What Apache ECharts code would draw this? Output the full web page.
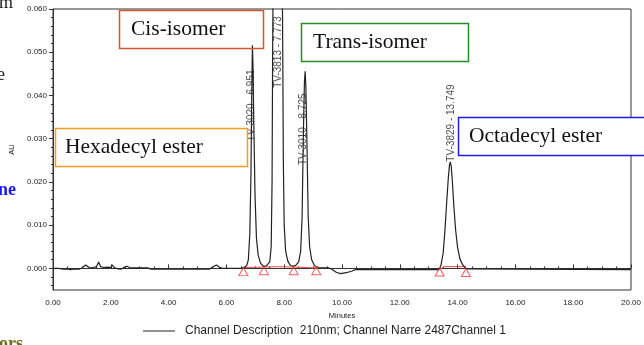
<!DOCTYPE html>
<html>
<head>
<meta charset="utf-8">
<script src="https://cdn.jsdelivr.net/npm/echarts@6.0.0/dist/echarts.min.js"></script>
<style>
  html, body { margin: 0; padding: 0; background: #fff; }
  #main { width: 644px; height: 345px; }
</style>
</head>
<body>
<div id="main"></div>
<script>
// chromatogram trace (minutes / AU)
var traceMinutes = [
  0.00, 0.20, 0.35, 0.50, 0.60, 0.75, 0.90, 1.00, 1.13, 1.25, 1.35, 1.50, 1.58, 1.65, 1.75, 1.90,
  2.00, 2.05, 2.12, 2.25, 2.35, 2.48, 2.55, 2.65, 2.80, 3.30, 3.38, 5.40, 5.55, 5.65, 5.75, 5.85,
  6.50, 6.60, 6.70, 6.76, 6.81, 6.85, 6.88, 6.90, 6.92, 6.95, 6.99, 7.04, 7.10, 7.18, 7.28, 7.38,
  7.50, 7.55, 7.58, 7.60, 7.63, 7.78, 7.92, 7.95, 7.97, 8.00, 8.05, 8.12, 8.20, 8.30,
  8.40, 8.50, 8.57, 8.62, 8.66, 8.70, 8.725, 8.75, 8.79, 8.83, 8.88, 8.95, 9.05, 9.20,
  9.55, 9.65, 9.80, 9.95, 10.15, 10.35, 10.45, 12.00, 13.35,
  13.42, 13.50, 13.56, 13.62, 13.68, 13.72, 13.749, 13.78, 13.82, 13.87, 13.93, 14.00, 14.08, 14.18, 14.30,
  20.00
];
var traceAU = [
  0.0000, 0.0000, -0.0002, -0.0001, -0.0003, -0.0001, -0.0002, 0.0001, 0.0008, 0.0002, 0.0001, 0.0004, 0.0015, 0.0004, 0.0002, 0.0003,
  0.0002, 0.0008, 0.0002, -0.0001, -0.0002, 0.0003, 0.0005, 0.0002, 0.0001, 0.0001, -0.0002, -0.0002, 0.0004, 0.0008, 0.0003, 0.0000,
  0.0000, 0.0002, 0.0006, 0.0020, 0.0080, 0.0220, 0.0420, 0.0516, 0.0470, 0.0330, 0.0170, 0.0070, 0.0030, 0.0012, 0.0005, 0.0006,
  0.0015, 0.0050, 0.0200, 0.0500, 0.0800, 0.1000, 0.0800, 0.0500, 0.0250, 0.0100, 0.0040, 0.0018, 0.0008, 0.0005,
  0.0007, 0.0015, 0.0040, 0.0120, 0.0300, 0.0430, 0.0456, 0.0420, 0.0280, 0.0120, 0.0050, 0.0020, 0.0006, 0.0002,
  0.0001, -0.0002, -0.0009, -0.0012, -0.0010, -0.0006, -0.0003, -0.0003, -0.0003,
  0.0006, 0.0035, 0.0085, 0.0150, 0.0210, 0.0240, 0.0246, 0.0236, 0.0200, 0.0145, 0.0090, 0.0048, 0.0022, 0.0008, -0.0001,
  -0.0003
];

// integration baselines (red) and their start/end marks
var baseMinutesA = [6.59, 7.30, 7.80, 8.33, 9.11];
var baseAUA = [0.0002, 0.0003, 0.0004, 0.0003, 0.0001];
var baseMinutesB = [13.38, 13.55, 14.29];
var baseAUB = [-0.0002, 0.0004, 0.0004];
var markMinutes = [6.59, 7.30, 8.33, 9.11, 13.38, 14.29];

// peak annotations
var peakMinutes = [6.90, 7.78, 8.725, 13.749];
var peakAU = [0.0516, 0.060, 0.0456, 0.0246];
var peakNames = ['TV-3020 - 6.951', 'TV-3813 - 7.773', 'TV-3010 - 8.725', 'TV-3829 - 13.749'];

var yTicks = [0, 0.01, 0.02, 0.03, 0.04, 0.05, 0.06];
var channelName = 'Channel Description  210nm; Channel Narre 2487Channel 1';

var chart = echarts.init(document.getElementById('main'), null, { renderer: 'canvas' });

function pairs(xs, ys) {
  var out = [];
  for (var i = 0; i < xs.length; i++) out.push([xs[i], ys[i]]);
  return out;
}

function baseAt(t) {
  // mark sits on the baseline of the trace
  var i = traceMinutes.findIndex(function (m) { return m >= t; });
  if (i <= 0) return traceAU[0];
  var a = traceMinutes[i - 1], b = traceMinutes[i];
  var k = (t - a) / (b - a);
  return Math.min(traceAU[i - 1] + k * (traceAU[i] - traceAU[i - 1]), 0.0004);
}

var minorY = [];
for (var v = -4; v <= 60; v += 2) {
  if (v % 10 !== 0) minorY.push(v / 1000);
}

// label offsets are given in the rotated frame: [-down, right]
var labelOffsets = [[-60, -1], [-43, 0], [-58, -2], [39, 1]];

var axisFont = {
  fontFamily: '"Liberation Sans Narrow", "Liberation Sans", Arial, sans-serif',
  fontSize: 8,
  color: '#222'
};
var boxFont = '21.5px "Liberation Serif", serif';

var option = {
  animation: false,
  backgroundColor: '#fff',
  grid: {
    left: 52, right: 6, top: 9, bottom: 55,
    show: true, borderColor: '#333', borderWidth: 1
  },
  legend: {
    data: [channelName],
    left: 143, top: 325, padding: 0,
    icon: 'rect', itemWidth: 32, itemHeight: 1, itemGap: 10,
    textStyle: { fontFamily: '"Liberation Sans", Arial, sans-serif', fontSize: 12, color: '#222', padding: [0, 0, 0, 5] }
  },
  xAxis: {
    type: 'value', min: 0, max: 20, interval: 2,
    name: 'Minutes', nameLocation: 'middle', nameGap: 20,
    nameTextStyle: Object.assign({}, axisFont, { fontSize: 7.5 }),
    axisLine: { lineStyle: { color: '#333', width: 1 } },
    axisTick: { inside: true, length: 4, lineStyle: { color: '#333' } },
    minorTick: { show: true, splitNumber: 4, length: 2, lineStyle: { color: '#333' } },
    axisLabel: Object.assign({ margin: 9, formatter: function (v) { return v.toFixed(2); } }, axisFont),
    splitLine: { show: false }
  },
  yAxis: [{
    type: 'value', min: -0.005, max: 0.06,
    name: 'AU', nameLocation: 'middle', nameGap: 37, nameRotate: 90,
    nameTextStyle: Object.assign({}, axisFont, { fontSize: 7.5 }),
    axisLine: { show: true, lineStyle: { color: '#333', width: 1 } },
    axisTick: { show: true, length: 4, customValues: yTicks, lineStyle: { color: '#333' } },
    axisLabel: Object.assign({ margin: 6, customValues: yTicks, formatter: function (v) { return v.toFixed(3); } }, axisFont),
    splitLine: { show: false }
  }, {
    type: 'value', min: -0.005, max: 0.06, position: 'left',
    axisLine: { show: false },
    axisTick: { show: true, length: 2, customValues: minorY, lineStyle: { color: '#333' } },
    axisLabel: { show: false },
    splitLine: { show: false }
  }],
  graphic: [
    // slide text cut by the crop
    { type: 'text', left: -1, top: -6, z: 10, style: { text: 'm', font: '18px "Liberation Serif", serif', fill: '#222' } },
    { type: 'text', left: -3, top: 66, z: 10, style: { text: 'e', font: '18px "Liberation Serif", serif', fill: '#222' } },
    { type: 'text', left: -2, top: 181, z: 10, style: { text: 'ne', font: 'bold 18px "Liberation Serif", serif', fill: '#1a1aee' } },
    { type: 'text', left: -1, top: 335, z: 10, style: { text: 'ors', font: 'bold 18px "Liberation Serif", serif', fill: '#6b6b1a' } },
    // annotation boxes
    { type: 'rect', shape: { x: 119.5, y: 10.5, width: 144, height: 38 }, z: 10,
      style: { fill: 'rgba(255,255,255,0)', stroke: '#d6552e', lineWidth: 1.5 } },
    { type: 'text', x: 131, y: 29.5, z: 11,
      style: { text: 'Cis-isomer', font: boxFont, fill: '#111', verticalAlign: 'middle' } },
    { type: 'rect', shape: { x: 301.5, y: 23.5, width: 167, height: 38 }, z: 10,
      style: { fill: '#fff', stroke: '#2a8a2a', lineWidth: 1.5 } },
    { type: 'text', x: 313, y: 42.5, z: 11,
      style: { text: 'Trans-isomer', font: boxFont, fill: '#111', verticalAlign: 'middle' } },
    { type: 'rect', shape: { x: 55.5, y: 128.5, width: 192, height: 38 }, z: 10,
      style: { fill: '#fff', stroke: '#f59c1a', lineWidth: 1.5 } },
    { type: 'text', x: 65, y: 147.5, z: 11,
      style: { text: 'Hexadecyl ester', font: boxFont, fill: '#111', verticalAlign: 'middle' } },
    { type: 'rect', shape: { x: 458.5, y: 117.5, width: 200, height: 38 }, z: 10,
      style: { fill: '#fff', stroke: '#1c1cee', lineWidth: 1.5 } },
    { type: 'text', x: 469, y: 136.5, z: 11,
      style: { text: 'Octadecyl ester', font: boxFont, fill: '#111', verticalAlign: 'middle' } }
  ],
  series: [{
    name: channelName,
    type: 'line',
    data: pairs(traceMinutes, traceAU),
    symbol: 'none',
    color: '#222',
    lineStyle: { color: '#222', width: 1.2 },
    clip: true,
    z: 3
  }, {
    type: 'line',
    data: pairs(baseMinutesA, baseAUA),
    symbol: 'none',
    lineStyle: { color: '#ee4444', width: 1 },
    z: 2
  }, {
    type: 'line',
    data: pairs(baseMinutesB, baseAUB),
    symbol: 'none',
    lineStyle: { color: '#ee4444', width: 1 },
    z: 2
  }, {
    type: 'scatter',
    data: markMinutes.map(function (t) { return [t, baseAt(t)]; }),
    symbol: 'triangle',
    symbolSize: [9, 8],
    symbolOffset: [0, 4],
    itemStyle: { color: 'rgba(255,255,255,0)', borderColor: '#ee3333', borderWidth: 1 },
    z: 4
  }, {
    type: 'scatter',
    clip: false,
    data: peakMinutes.map(function (t, i) {
      return { value: [t, peakAU[i]], name: peakNames[i], label: { offset: labelOffsets[i] } };
    }),
    symbolSize: 1,
    itemStyle: { color: 'rgba(0,0,0,0)' },
    label: {
      show: true, position: 'inside', rotate: 90,
      formatter: '{b}',
      fontFamily: '"Liberation Sans", Arial, sans-serif', fontSize: 10, color: '#222'
    },
    z: 5
  }]
};

chart.setOption(option);
</script>
</body>
</html>
